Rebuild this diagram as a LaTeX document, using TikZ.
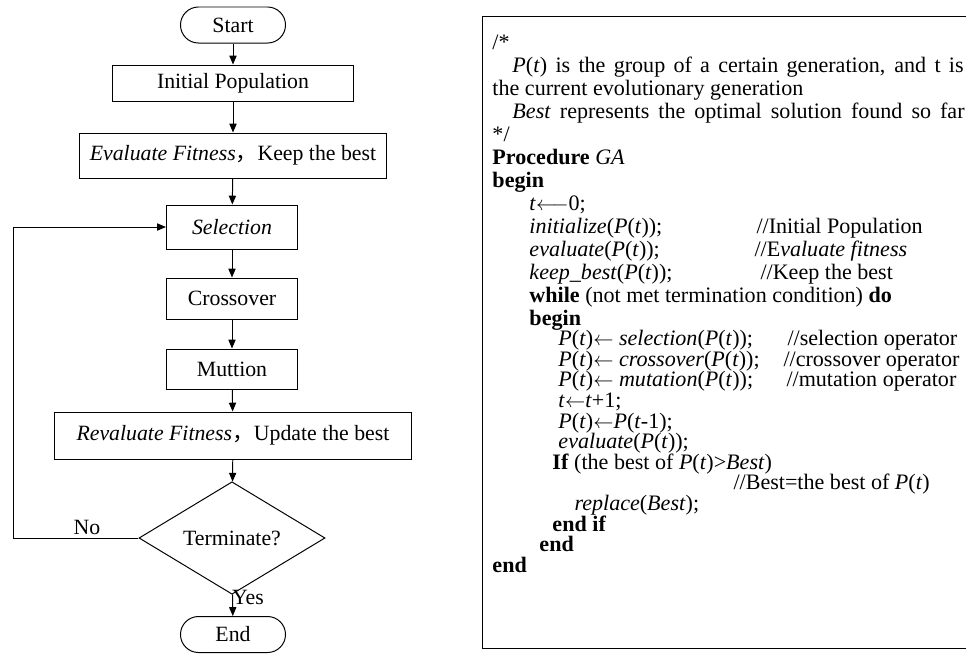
\documentclass[tikz,border=0pt]{standalone}
\usepackage{fontspec}
\setmainfont{Liberation Serif}
\newfontfamily\cjk{Noto Sans CJK SC}
\usetikzlibrary{positioning, arrows.meta, shapes.geometric}

\newcommand{\popt}{\textit{P}(\textit{t})}
\newcommand{\fwcomma}{{\cjk ，}}
\newcommand{\getsarrow}{\ensuremath{\leftarrow}}

\begin{document}
\begin{tikzpicture}[
    x=0.025cm, y=-0.025cm,
    every node/.style={font=\fontsize{15.5}{18}\selectfont},
    term/.style={draw, rounded corners=0.45cm, minimum width=2.625cm, minimum height=0.9cm},
    proc/.style={draw, minimum height=1.05cm},
    cond/.style={draw, diamond, minimum width=4.65cm, minimum height=1.75cm, inner sep=0pt},
    arrow/.style={-{Triangle[length=2.2mm, width=1.8mm]}},
    code/.style={anchor=base west, inner sep=0pt, font=\fontsize{15.7}{18}\selectfont},
    line width=0.7pt
]
\useasboundingbox (0,0) rectangle (966,654);

% flow chart
\node[term] (start) at (233,25) {Start};
\node[proc, minimum width=6cm, minimum height=0.9cm] (init) at (233,83) {Initial Population};
\node[proc, minimum width=7.65cm, minimum height=1.125cm] (eval) at (233,155.5) {\textit{Evaluate Fitness}\fwcomma{}Keep the best};
\node[proc, minimum width=3.275cm, minimum height=1.1cm] (sel) at (232,227) {\textit{Selection}};
\node[proc, minimum width=3.25cm, minimum height=1.025cm] (cross) at (232,298.5) {Crossover};
\node[proc, minimum width=3.25cm, minimum height=1cm] (mut) at (232,369) {Muttion};
\node[proc, minimum width=8.9cm, minimum height=1.175cm] (reval) at (233,435.5) {\textit{Revaluate Fitness}\fwcomma{}Update the best};
\node[cond] (term) at (232,538) {Terminate?};
\node[term] (end) at (233,634.5) {End};
\coordinate (back) at (13,538);

\draw[arrow] (start) -- (init);
\draw[arrow] (init) -- (eval);
\draw[arrow] (eval) -- (sel);
\draw[arrow] (sel) -- (cross);
\draw[arrow] (cross) -- (mut);
\draw[arrow] (mut) -- (reval);
\draw[arrow] (reval) -- (term);
\draw[arrow] (term) -- (end);
\draw[arrow] (term.west) -- (back) |- (sel.west);
\node (no) at (87,527) {No};
\node (yes) at (248,597) {Yes};

% pseudo code
\draw (482,16) rectangle (968,648);
\node[code] (c0) at (492,49) {/*};
\node[code] (c1) at (512,72) {\makebox[11.275cm][s]{\popt{} is the group of a certain generation, and t is}};
\node[code] (c2) at (492,95) {the current evolutionary generation};
\node[code] (c3) at (512,118) {\makebox[11.3cm][s]{\textit{Best} represents the optimal solution found so far}};
\node[code] (c4) at (492,141) {*/};
\node[code] (c5) at (492,164) {\textbf{Procedure} \textit{GA}};
\node[code] (c6) at (492,187) {\textbf{begin}};
\node[code] (c7) at (529,210) {\textit{t}\ensuremath{\longleftarrow}0;};
\node[code] (c8) at (529,233) {\textit{initialize}(\popt);};
\node[code] (c8r) at (756,233) {//Initial Population};
\node[code] (c9) at (529,256) {\textit{evaluate}(\popt);};
\node[code] (c9r) at (754,256) {//E\textit{valuate fitness}};
\node[code] (c10) at (529,279) {\textit{keep\_best}(\popt);};
\node[code] (c10r) at (760,279) {//Keep the best};
\node[code] (c11) at (529,302) {\textbf{while} (not met termination condition) \textbf{do}};
\node[code] (c12) at (529,325) {\textbf{begin}};
\node[code] (c13) at (558,345.6) {\popt\getsarrow{} \textit{selection}(\popt);};
\node[code] (c13r) at (787,345.6) {//selection operator};
\node[code] (c14) at (558,366.2) {\popt\getsarrow{} \textit{crossover}(\popt);};
\node[code] (c14r) at (783,366.2) {//crossover operator};
\node[code] (c15) at (558,386.8) {\popt\getsarrow{} \textit{mutation}(\popt);};
\node[code] (c15r) at (786,386.8) {//mutation operator};
\node[code] (c16) at (558,407.4) {\textit{t}\getsarrow\textit{t}+1;};
\node[code] (c17) at (558,428) {\popt\getsarrow\textit{P}(\textit{t}-1);};
\node[code] (c18) at (558,448.6) {\textit{evaluate}(\popt);};
\node[code] (c19) at (552,469.2) {\textbf{If} (the best of \popt>\textit{Best})};
\node[code] (c20) at (733,489.8) {//Best=the best of \popt};
\node[code] (c21) at (574,510.4) {\textit{replace}(\textit{Best});};
\node[code] (c22) at (552,531) {\textbf{end if}};
\node[code] (c23) at (539,551.6) {\textbf{end}};
\node[code] (c24) at (492,572.2) {\textbf{end}};
\end{tikzpicture}
\end{document}
